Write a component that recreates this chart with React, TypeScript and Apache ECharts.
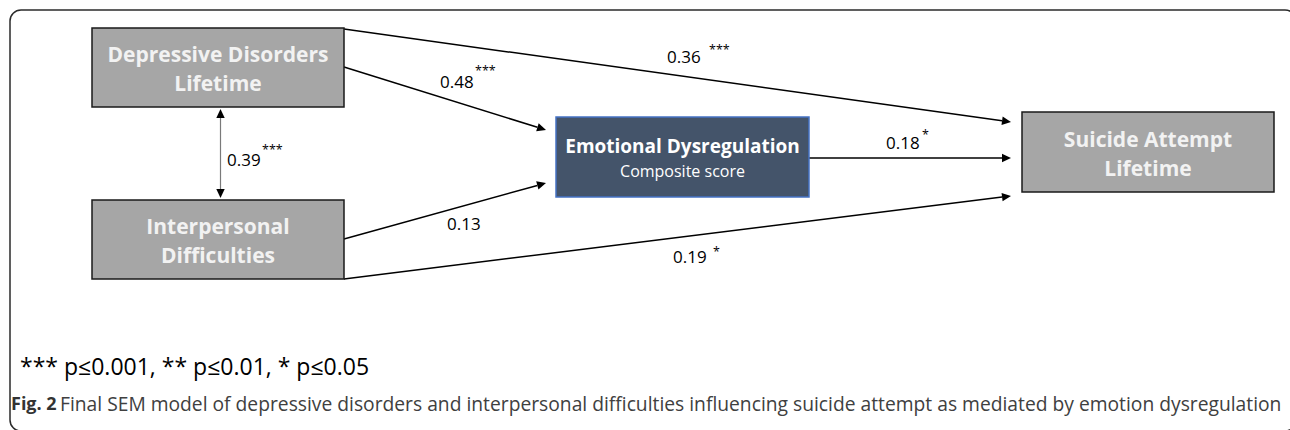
import React, { useEffect, useRef } from "react";
import * as echarts from "echarts";

// ---- Data ----
const nodeIds = ["DD", "ID", "ED", "SA"];
const nodeTitles = ["Depressive Disorders\nLifetime", "Interpersonal\nDifficulties", "Emotional Dysregulation", "Suicide Attempt\nLifetime"];
const nodeSubtitles = ["", "", "Composite score", ""];

const pathFrom = ["DD", "DD", "ID", "ID", "ED", "DD"];
const pathTo = ["SA", "ED", "ED", "SA", "SA", "ID"];
const coefficients = [0.36, 0.48, 0.13, 0.19, 0.18, 0.39];
const significance = ["***", "***", "", "*", "*", "***"];

const legendText = "*** p\u22640.001, ** p\u22640.01, * p\u22640.05";
const captionLead = "Fig. 2";
const captionText = "Final SEM model of depressive disorders and interpersonal difficulties influencing suicide attempt as mediated by emotion dysregulation";

// ---- Layout (pixel space of the 1290x430 canvas) ----
const W = 1290;
const H = 430;
const boxLayout = [
  { x: 92, y: 28, w: 252, h: 79 },
  { x: 92, y: 200, w: 252, h: 79 },
  { x: 556, y: 117, w: 253, h: 80 },
  { x: 1022, y: 112, w: 252, h: 80 },
];
// start point, arrow tip, double-headed?
const edgeLayout = [
  { p0: [344, 29], p1: [1011, 122], both: false },
  { p0: [344, 67], p1: [546, 130], both: false },
  { p0: [344, 239], p1: [546, 183], both: false },
  { p0: [344, 279], p1: [1011, 196], both: false },
  { p0: [809, 158], p1: [1011, 158], both: false },
  { p0: [220.5, 109], p1: [220.5, 198], both: true },
];
// coefficient label left x / middle y, star left x / middle y
const labelLayout = [
  { x: 667, y: 56, sx: 709, sy: 49 },
  { x: 440, y: 81, sx: 475, sy: 70 },
  { x: 447, y: 223, sx: 0, sy: 0 },
  { x: 673, y: 256, sx: 713, sy: 251 },
  { x: 886, y: 142, sx: 922, sy: 134 },
  { x: 227, y: 159, sx: 262, sy: 149 },
];

const FONT = "'Open Sans', 'Noto Sans', sans-serif";

export default function App() {
  const ref = useRef<HTMLDivElement>(null);

  useEffect(() => {
    document.body.style.margin = "0";
    const chart = echarts.init(ref.current!, null, { renderer: "svg" });

    const boxData = nodeIds.map((id, i) => [i, boxLayout[i].x, boxLayout[i].y]);
    const edgeData = pathFrom.map((f, i) => [i, edgeLayout[i].p0[0], edgeLayout[i].p0[1]]);
    const labelData = coefficients.map((c, i) => [i, labelLayout[i].x, labelLayout[i].y]);

    const option: any = {
      animation: false,
      backgroundColor: "#ffffff",
      grid: { left: 0, right: 0, top: 0, bottom: 0 },
      xAxis: { type: "value", min: 0, max: W, show: false },
      yAxis: { type: "value", min: 0, max: H, inverse: true, show: false },
      graphic: [
        {
          type: "rect",
          shape: { x: 10, y: 10, width: 1286, height: 421, r: 11 },
          style: { fill: "none", stroke: "#2b2b2b", lineWidth: 1.5 },
          z: 1,
        },
        {
          type: "text",
          x: 20,
          y: 366,
          style: {
            text: legendText,
            font: `400 23px ${FONT}`,
            fill: "#000000",
            verticalAlign: "middle",
            align: "left",
          },
        },
        {
          type: "text",
          x: 11,
          y: 403,
          style: {
            text: `{b|${captionLead}} {n|${captionText}}`,
            verticalAlign: "middle",
            align: "left",
            fill: "#404040",
            rich: {
              b: { fontFamily: FONT, fontWeight: 700, fontSize: 18, fill: "#333333" },
              n: { fontFamily: FONT, fontWeight: 400, fontSize: 19.25, fill: "#404040" },
            },
          },
        },
      ],
      series: [
        {
          type: "custom",
          name: "paths",
          coordinateSystem: "cartesian2d",
          data: edgeData,
          z: 3,
          renderItem: (params: any, api: any) => {
            const i = params.dataIndex;
            const e = edgeLayout[i];
            const a = api.coord(e.p0);
            const b = api.coord(e.p1);
            const dx = b[0] - a[0];
            const dy = b[1] - a[1];
            const len = Math.sqrt(dx * dx + dy * dy);
            const ux = dx / len;
            const uy = dy / len;
            const hl = 9;
            const hw = 4.2;
            const head = (tip: number[], sx: number, sy: number) => {
              const bx = tip[0] - sx * hl;
              const by = tip[1] - sy * hl;
              return {
                type: "polygon",
                shape: {
                  points: [
                    [tip[0], tip[1]],
                    [bx - sy * hw, by + sx * hw],
                    [bx + sy * hw, by - sx * hw],
                  ],
                },
                style: { fill: "#000000" },
              };
            };
            const start = e.both ? [a[0] + ux * hl, a[1] + uy * hl] : a;
            const end = [b[0] - ux * hl, b[1] - uy * hl];
            const children: any[] = [
              {
                type: "line",
                shape: { x1: start[0], y1: start[1], x2: end[0], y2: end[1] },
                style: { stroke: e.both ? "#7a7a7a" : "#000000", lineWidth: e.both ? 1.2 : 1.5 },
              },
              head(b, ux, uy),
            ];
            if (e.both) children.push(head(a, -ux, -uy));
            return { type: "group", children };
          },
        },
        {
          type: "custom",
          name: "variables",
          coordinateSystem: "cartesian2d",
          data: boxData,
          z: 4,
          renderItem: (params: any, api: any) => {
            const i = params.dataIndex;
            const L = boxLayout[i];
            const p0 = api.coord([L.x, L.y]);
            const p1 = api.coord([L.x + L.w, L.y + L.h]);
            const cx = (p0[0] + p1[0]) / 2;
            const cy = (p0[1] + p1[1]) / 2;
            const isMediator = nodeSubtitles[i] !== "";
            const text = isMediator
              ? `{t|${nodeTitles[i]}}\n{s|${nodeSubtitles[i]}}`
              : nodeTitles[i]
                  .split("\n")
                  .map((l) => `{t|${l}}`)
                  .join("\n");
            return {
              type: "group",
              children: [
                {
                  type: "rect",
                  shape: { x: p0[0], y: p0[1], width: p1[0] - p0[0], height: p1[1] - p0[1] },
                  style: {
                    fill: isMediator ? "#44546a" : "#a6a6a6",
                    stroke: isMediator ? "#4472c4" : "#1a1a1a",
                    lineWidth: 1.5,
                  },
                },
                {
                  type: "text",
                  x: cx,
                  y: cy + 1,
                  style: {
                    text,
                    align: "center",
                    verticalAlign: "middle",
                    rich: isMediator
                      ? {
                          t: { fontFamily: FONT, fontWeight: 700, fontSize: 19, lineHeight: 25, fill: "#ffffff" },
                          s: { fontFamily: FONT, fontWeight: 400, fontSize: 16, lineHeight: 25, fill: "#ffffff" },
                        }
                      : {
                          t: { fontFamily: FONT, fontWeight: 700, fontSize: 21, lineHeight: 29, fill: "#f2f2f2" },
                        },
                  },
                },
              ],
            };
          },
        },
        {
          type: "custom",
          name: "coefficients",
          coordinateSystem: "cartesian2d",
          data: labelData,
          z: 5,
          renderItem: (params: any, api: any) => {
            const i = params.dataIndex;
            const L = labelLayout[i];
            const p = api.coord([L.x, L.y]);
            const children: any[] = [
              {
                type: "text",
                x: p[0],
                y: p[1],
                style: {
                  text: coefficients[i].toFixed(2),
                  font: `400 17px ${FONT}`,
                  fill: "#000000",
                  align: "left",
                  verticalAlign: "middle",
                },
              },
            ];
            if (significance[i]) {
              const s = api.coord([L.sx, L.sy]);
              children.push({
                type: "text",
                x: s[0],
                y: s[1],
                style: {
                  text: significance[i],
                  font: `400 12.5px ${FONT}`,
                  fill: "#000000",
                  align: "left",
                  verticalAlign: "middle",
                },
              });
            }
            return { type: "group", children };
          },
        },
      ],
    };

    chart.setOption(option);
    return () => chart.dispose();
  }, []);

  return <div ref={ref} style={{ position: "absolute", left: 0, top: 0, width: W, height: H }} />;
}
